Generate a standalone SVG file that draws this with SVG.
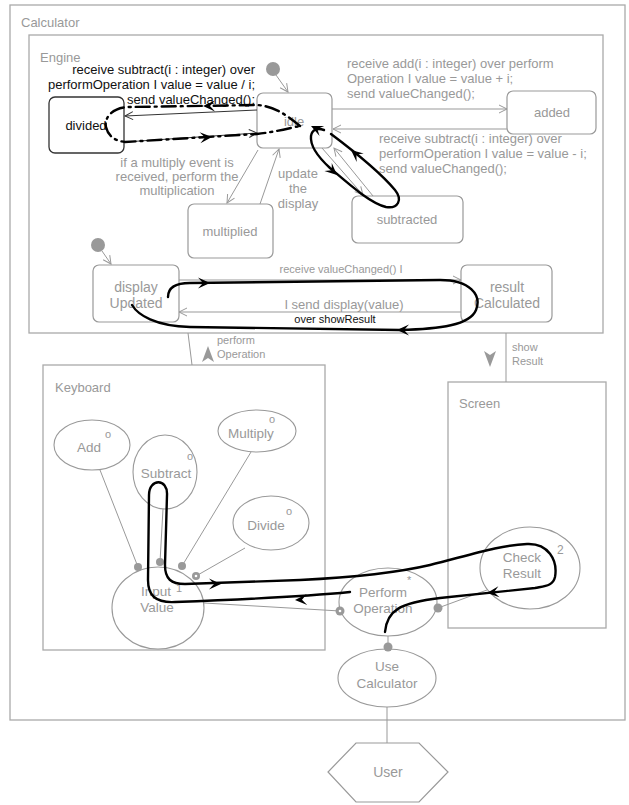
<svg xmlns="http://www.w3.org/2000/svg" xmlns:xlink="http://www.w3.org/1999/xlink" width="629" height="805" viewBox="0 0 629 805">
  <style>
    text { font-family: "Liberation Sans", Arial, sans-serif; }
    .frame { fill: #ffffff; stroke: #aaaaaa; stroke-width: 1.3; }
    .state { fill: #ffffff; stroke: #999999; stroke-width: 1.2; }
    .ell { fill: #ffffff; stroke: #999999; stroke-width: 1.1; }
    .g { fill: #999999; }
    .lbl { font-size: 13px; }
    .ctr { text-anchor: middle; }
    .k { fill: #111111; }
    .tr { fill: none; stroke: #999999; stroke-width: 1; }
    .trd { fill: none; stroke: #333333; stroke-width: 1; }
    .loop { fill: none; stroke: #000000; stroke-width: 2.4; stroke-linecap: round; stroke-linejoin: round; }
    .sup { font-size: 11px; fill: #999999; }
  </style>
  <defs>
    <marker id="open" markerWidth="12" markerHeight="12" refX="10" refY="6" orient="auto" markerUnits="userSpaceOnUse">
      <path d="M2,2 L10,6 L2,10" fill="none" stroke="#999999" stroke-width="1"/>
    </marker>
    <marker id="openDark" markerWidth="12" markerHeight="12" refX="10" refY="6" orient="auto" markerUnits="userSpaceOnUse">
      <path d="M2,2 L10,6 L2,10" fill="none" stroke="#333333" stroke-width="1"/>
    </marker>
    <!-- barbed head for the thick flow paths -->
    <path id="ah" d="M0,0 L-12,-5.5 L-7,0 L-12,5.5 Z" fill="#000000"/>
    <!-- filled stealth head for the part ports -->
    <path id="stealth" d="M0,0 L6,16 L0,12 L-6,16 Z" fill="#999999"/>
  </defs>

  <!-- outer system frame -->
  <g id="calculator">
    <rect class="frame" x="10" y="5" width="615" height="715"/>
    <text class="lbl g" x="21" y="27">Calculator</text>
  </g>

  <g id="engine">
    <rect class="frame" x="29" y="35" width="574" height="298"/>
    <text class="lbl g" x="40" y="62">Engine</text>
  </g>

  <g id="keyboard">
    <rect class="frame" x="43" y="365" width="282" height="285"/>
    <text class="lbl g" x="55" y="392">Keyboard</text>
  </g>

  <g id="screen">
    <rect class="frame" x="448" y="382" width="158" height="246"/>
    <text class="lbl g" x="459" y="408">Screen</text>
  </g>

  <!-- engine states -->
  <g id="init-idle">
    <circle cx="273" cy="69" r="7" fill="#999999"/>
  </g>
  <g id="idle">
    <rect class="state" x="257" y="93" width="75" height="55" rx="6"/>
    <text class="lbl g ctr" x="294" y="126">idle</text>
  </g>
  <g id="divided">
    <rect x="49" y="97" width="75" height="56" rx="6" fill="#ffffff" stroke="#333333" stroke-width="1.3"/>
    <text class="lbl k ctr" x="86" y="130">divided</text>
  </g>
  <g id="added">
    <rect class="state" x="507" y="91" width="89" height="43" rx="6"/>
    <text class="lbl g ctr" x="552" y="117">added</text>
  </g>
  <g id="subtracted">
    <rect class="state" x="352" y="196" width="111" height="47" rx="6"/>
    <text class="lbl g ctr" x="407" y="224">subtracted</text>
  </g>
  <g id="multiplied">
    <rect class="state" x="188" y="204" width="85" height="54" rx="6"/>
    <text class="lbl g ctr" x="230" y="236">multiplied</text>
  </g>
  <g id="init-display">
    <circle cx="98" cy="245" r="7" fill="#999999"/>
  </g>
  <g id="displayUpdated">
    <rect class="state" x="93" y="265" width="86" height="57" rx="6"/>
    <text class="g ctr" x="136" y="292" font-size="14">display</text>
    <text class="g ctr" x="136" y="308" font-size="14">Updated</text>
  </g>
  <g id="resultCalculated">
    <rect class="state" x="461" y="265" width="91" height="57" rx="6"/>
    <text class="g ctr" x="507" y="292" font-size="14">result</text>
    <text class="g ctr" x="507" y="308" font-size="14">Calculated</text>
  </g>

  <!-- keyboard parts -->
  <g id="add">
    <ellipse class="ell" cx="92" cy="445" rx="38" ry="25"/>
    <text class="g ctr" x="89" y="452" font-size="13.5">Add</text>
    <text class="sup" x="105" y="438">o</text>
  </g>
  <g id="subtract">
    <ellipse class="ell" cx="165" cy="472" rx="32" ry="37"/>
    <text class="g ctr" x="166" y="478" font-size="13.5">Subtract</text>
    <text class="sup" x="187" y="460">o</text>
  </g>
  <g id="multiply">
    <ellipse class="ell" cx="257" cy="431" rx="39" ry="21"/>
    <text class="g ctr" x="251" y="438" font-size="13.5">Multiply</text>
    <text class="sup" x="269" y="423">o</text>
  </g>
  <g id="divide">
    <ellipse class="ell" cx="271" cy="523" rx="38" ry="27"/>
    <text class="g ctr" x="266" y="530" font-size="13.5">Divide</text>
    <text class="sup" x="286" y="515">o</text>
  </g>
  <g id="inputValue">
    <ellipse class="ell" cx="158" cy="608" rx="46" ry="41"/>
    <text class="g ctr" x="156" y="596" font-size="13.5">Input</text>
    <text class="g ctr" x="157" y="612" font-size="13.5">Value</text>
    <text class="sup" x="176" y="592">1</text>
  </g>
  <g id="performOperation">
    <ellipse class="ell" cx="388" cy="602" rx="49" ry="34"/>
    <text class="g ctr" x="383" y="597" font-size="13.5">Perform</text>
    <text class="g ctr" x="383" y="613" font-size="13.5">Operation</text>
    <text class="sup" x="407" y="584" font-size="10">*</text>
  </g>
  <g id="checkResult">
    <ellipse class="ell" cx="530" cy="568" rx="50" ry="41"/>
    <text class="g ctr" x="522" y="562" font-size="13.5">Check</text>
    <text class="g ctr" x="522" y="578" font-size="13.5">Result</text>
    <text class="g" x="557" y="554" font-size="12">2</text>
  </g>
  <g id="useCalculator">
    <ellipse class="ell" cx="387" cy="678" rx="49" ry="29"/>
    <text class="g ctr" x="387" y="671" font-size="13.5">Use</text>
    <text class="g ctr" x="387" y="688" font-size="13.5">Calculator</text>
  </g>
  <g id="user">
    <polygon points="356,743 419,743 448,772 419,802 356,802 328,772" fill="#ffffff" stroke="#999999" stroke-width="1.2"/>
    <text class="g ctr" x="388" y="777" font-size="14">User</text>
  </g>

  <g id="connectors">
    <!-- engine transitions -->
    <line class="tr" x1="276" y1="75" x2="288" y2="92" marker-end="url(#open)"/>
    <line class="tr" x1="102" y1="251" x2="111" y2="264" marker-end="url(#open)"/>
    <line class="trd" x1="257" y1="110" x2="125" y2="116" marker-end="url(#openDark)"/>
    <line class="trd" x1="125" y1="142" x2="257" y2="133" marker-end="url(#openDark)"/>
    <line class="tr" x1="332" y1="109" x2="507" y2="109" marker-end="url(#open)"/>
    <line class="tr" x1="507" y1="129" x2="333" y2="129" marker-end="url(#open)"/>
    <line class="tr" x1="322" y1="148" x2="363" y2="195" marker-end="url(#open)"/>
    <line class="tr" x1="373" y1="196" x2="334" y2="148" marker-end="url(#open)"/>
    <line class="tr" x1="258" y1="150" x2="227" y2="203" marker-end="url(#open)"/>
    <line class="tr" x1="260" y1="204" x2="279" y2="149" marker-end="url(#open)"/>
    <line class="tr" x1="179" y1="280" x2="461" y2="280" marker-end="url(#open)"/>
    <line class="tr" x1="461" y1="312" x2="179" y2="312" marker-end="url(#open)"/>

    <!-- ports between parts -->
    <line class="tr" x1="188" y1="333" x2="192" y2="365"/>
    <use xlink:href="#stealth" transform="translate(208,346)"/>
    <line class="tr" x1="506" y1="333" x2="506" y2="382"/>
    <use xlink:href="#stealth" transform="translate(490,367) rotate(180)"/>

    <!-- keyboard wiring -->
    <line class="tr" x1="100" y1="470" x2="138" y2="567"/>
    <line class="tr" x1="163" y1="509" x2="160" y2="562"/>
    <line class="tr" x1="251" y1="452" x2="182" y2="566"/>
    <line class="tr" x1="245" y1="548" x2="196" y2="576"/>
    <circle cx="138" cy="567" r="4" fill="#999999"/>
    <circle cx="160" cy="562" r="4" fill="#999999"/>
    <circle cx="182" cy="566" r="4" fill="#999999"/>
    <circle cx="196" cy="576" r="4" fill="#999999"/>
    <circle cx="196" cy="576" r="1.3" fill="#ffffff"/>
    <line class="tr" x1="204" y1="603" x2="340" y2="611"/>
    <line class="tr" x1="438" y1="608" x2="487" y2="590"/>
    <line class="tr" x1="388" y1="636" x2="388" y2="647"/>
    <circle cx="340" cy="611" r="4.5" fill="#999999"/>
    <circle cx="340" cy="611" r="1.3" fill="#ffffff"/>
    <circle cx="438" cy="608" r="4.5" fill="#999999"/>
    <circle cx="388" cy="647" r="4.5" fill="#999999"/>
    <line class="tr" x1="387" y1="707" x2="387" y2="743"/>

    <!-- transition labels -->
    <g class="lbl k" text-anchor="end">
      <text x="255" y="74">receive subtract(i : integer) over</text>
      <text x="255" y="89">performOperation I value = value / i;</text>
      <text x="255" y="104">send valueChanged();</text>
    </g>
    <g class="lbl g">
      <text x="347" y="68">receive add(i : integer) over perform</text>
      <text x="347" y="83">Operation I value = value + i;</text>
      <text x="347" y="98">send valueChanged();</text>
      <text x="379" y="143">receive subtract(i : integer) over</text>
      <text x="379" y="158">performOperation I value = value - i;</text>
      <text x="379" y="173">send valueChanged();</text>
    </g>
    <g class="lbl g ctr">
      <text x="177" y="167">if a multiply event is</text>
      <text x="177" y="181">received, perform the</text>
      <text x="177" y="195">multiplication</text>
      <text x="298" y="178">update</text>
      <text x="298" y="193">the</text>
      <text x="298" y="208">display</text>
      <text x="344" y="309">I send display(value)</text>
    </g>
    <text class="g ctr" x="341" y="273" font-size="11">receive valueChanged() I</text>
    <text class="k ctr" x="335" y="323" font-size="11">over showResult</text>
    <text class="g" x="217" y="344" font-size="11">perform</text>
    <text class="g" x="217" y="358" font-size="11">Operation</text>
    <text class="g" x="512" y="351" font-size="11">show</text>
    <text class="g" x="512" y="365" font-size="11">Result</text>

    <!-- flow overlays -->
    <path class="loop" stroke-dasharray="14 5 2 5" stroke-linecap="butt" d="M 300 126 C 290 118, 276 106, 257 105 L 130 107 C 112 107, 104 118, 106 127 C 108 136, 115 141, 125 142 L 257 134 C 275 132, 290 128, 300 126"/>
    <use xlink:href="#ah" transform="translate(203,106) rotate(180)"/>
    <use xlink:href="#ah" transform="translate(212,137) rotate(-4)"/>

    <path class="loop" d="M 331 134 C 355 152, 380 172, 395 190 C 403 200, 398 209, 386 207 C 370 203, 350 185, 330 168 C 318 157, 310 145, 311 136 C 312 129, 318 128, 324 130"/>
    <use xlink:href="#ah" transform="translate(351,150) rotate(-140)"/>
    <use xlink:href="#ah" transform="translate(337,175) rotate(42)"/>
    <use xlink:href="#ah" transform="translate(311,126) rotate(-155)"/>

    <path class="loop" d="M 168 297 C 168 287, 176 283, 190 283 L 440 280 C 470 280, 482 295, 476 310 C 470 325, 440 329, 400 330 L 190 327 C 155 326, 138 315, 132 305"/>
    <use xlink:href="#ah" transform="translate(210,283)"/>
    <use xlink:href="#ah" transform="translate(397,330) rotate(180)"/>

    <path class="loop" d="M 350 592 C 300 597, 230 600, 175 602 C 155 603, 148 595, 148 580 L 149 495 C 149 478, 168 478, 167 495 L 165 565 C 165 579, 171 584, 185 584 L 300 580 C 360 577, 400 572, 430 565 C 470 555, 500 545, 527 544 C 548 543, 558 560, 555 577 C 553 586, 545 586, 535 588 L 440 598 C 400 603, 387 610, 385 632"/>
    <use xlink:href="#ah" transform="translate(221,584)"/>
    <use xlink:href="#ah" transform="translate(295,600) rotate(178)"/>
    <use xlink:href="#ah" transform="translate(487,593) rotate(174)"/>
  </g>
</svg>
